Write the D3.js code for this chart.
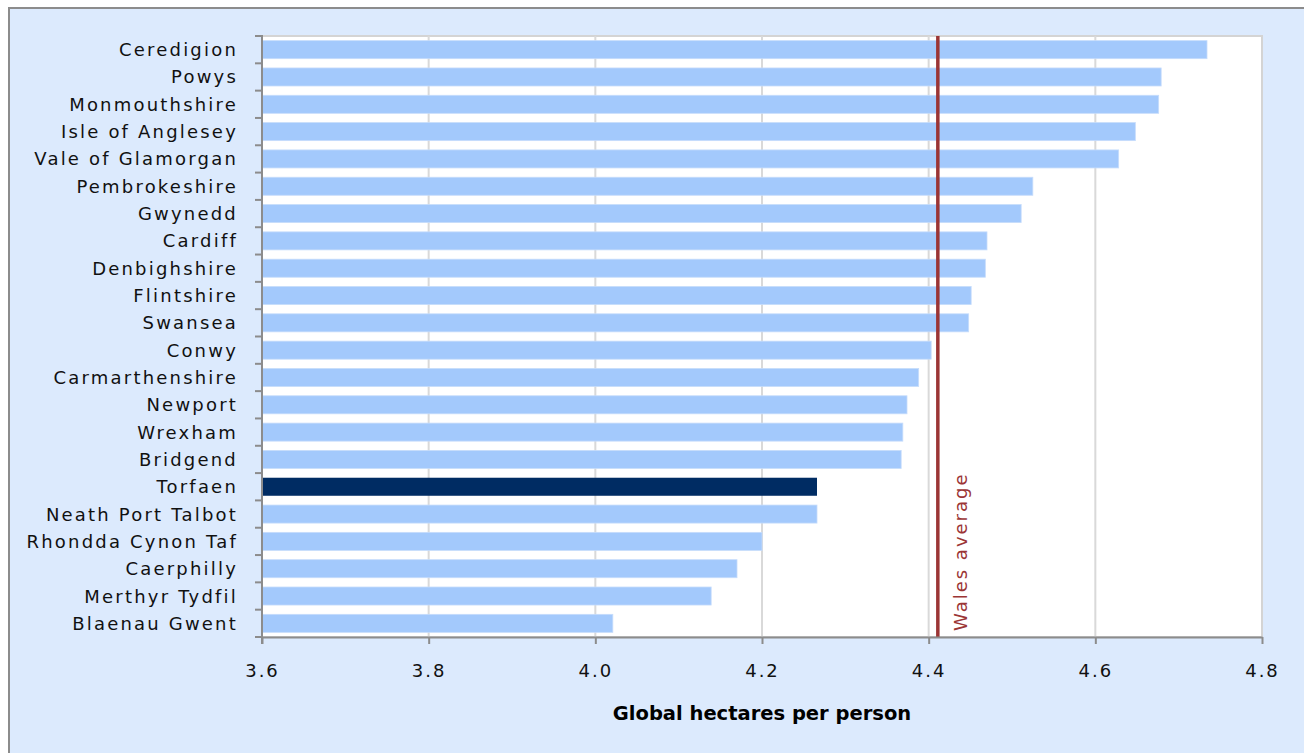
<!DOCTYPE html>
<html><head><meta charset="utf-8">
<script src="https://cdn.jsdelivr.net/npm/d3@7"></script>
<style>
html,body{margin:0;padding:0;background:#fff;}
svg{display:block;}
text{font-family:"DejaVu Sans",Verdana,sans-serif;}
</style></head>
<body>
<svg id="chart" width="1304" height="753"></svg>
<script>
const categories = ["Ceredigion","Powys","Monmouthshire","Isle of Anglesey","Vale of Glamorgan","Pembrokeshire","Gwynedd","Cardiff","Denbighshire","Flintshire","Swansea","Conwy","Carmarthenshire","Newport","Wrexham","Bridgend","Torfaen","Neath Port Talbot","Rhondda Cynon Taf","Caerphilly","Merthyr Tydfil","Blaenau Gwent"];
const values = [4.734,4.679,4.676,4.648,4.628,4.525,4.511,4.470,4.468,4.451,4.448,4.403,4.388,4.374,4.369,4.367,4.266,4.266,4.200,4.170,4.139,4.021];
const highlighted = ["Torfaen"];
const walesAverage = 4.411;
const walesLabel = "Wales average";
const xTicks = [3.6,3.8,4.0,4.2,4.4,4.6,4.8];
const xTitle = "Global hectares per person";

const svg = d3.select("#chart");
// outer background
svg.append("rect").attr("x",9).attr("y",8).attr("width",1304).attr("height",753).attr("fill","#dceafd");
svg.append("line").attr("x1",9).attr("x2",9).attr("y1",7).attr("y2",753).attr("stroke","#8c8c8c").attr("stroke-width",2);
svg.append("line").attr("x1",8).attr("x2",1304).attr("y1",8).attr("y2",8).attr("stroke","#8c8c8c").attr("stroke-width",2);

const L=262, R=1262, T=36, B=637;
const x = d3.scaleLinear().domain([3.6,4.8]).range([L,R]);
const y = d3.scaleBand().domain(categories).range([T,B]).paddingInner(0.34).paddingOuter(0.17);
const yb = d3.scaleBand().domain(categories).range([T,B]);

svg.append("rect").attr("x",L).attr("y",T).attr("width",R-L).attr("height",B-T).attr("fill","#fff").attr("stroke","#d4d4d4").attr("stroke-width",2);

// grid
svg.append("g").selectAll("line").data(xTicks.slice(1,-1)).join("line")
  .attr("x1",d=>x(d)).attr("x2",d=>x(d)).attr("y1",T).attr("y2",B)
  .attr("stroke","#d9d9d9").attr("stroke-width",2);

// bars
svg.append("g").selectAll("rect").data(categories).join("rect")
  .attr("x",x(3.6)).attr("y",d=>y(d)).attr("height",y.bandwidth())
  .attr("width",(d,i)=>x(values[i])-x(3.6))
  .attr("fill",d=>highlighted.includes(d)?"#002c63":"#a3c9fc")
  .attr("stroke",d=>highlighted.includes(d)?"none":"#c6dcfb").attr("stroke-width",0.8);

// wales average line
svg.append("line").attr("x1",x(walesAverage)).attr("x2",x(walesAverage)).attr("y1",T).attr("y2",B)
  .attr("stroke","#9b3535").attr("stroke-width",3.5);
svg.append("text").attr("transform",`translate(${x(walesAverage)+29},${B-6}) rotate(-90)`)
  .attr("fill","#9b3535").attr("font-size",18).attr("letter-spacing",2).text(walesLabel);

// axes
const xAxis = d3.axisBottom(x).tickValues(xTicks).tickFormat(d3.format(".1f")).tickSizeInner(7).tickSizeOuter(0).tickPadding(20);
const gx = svg.append("g").attr("transform",`translate(0,${B})`).call(xAxis);
gx.select(".domain").attr("stroke","#8c8c8c").attr("stroke-width",2);
gx.selectAll(".tick line").attr("stroke","#8c8c8c").attr("stroke-width",2);
gx.selectAll(".tick text").attr("font-size",18).attr("fill","#111").attr("letter-spacing",2).style("font-family","DejaVu Sans");

const gy = svg.append("g").attr("transform",`translate(${L},0)`);
gy.append("line").attr("x1",0).attr("x2",0).attr("y1",T-1).attr("y2",B+7).attr("stroke","#8c8c8c").attr("stroke-width",2);
const bounds = categories.map(c=>yb(c)).concat([B]);
gy.selectAll("line.t").data(bounds).join("line").attr("class","t")
  .attr("x1",-7).attr("x2",0).attr("y1",d=>d).attr("y2",d=>d).attr("stroke","#8c8c8c").attr("stroke-width",2);
gy.selectAll("text").data(categories).join("text")
  .attr("x",-24).attr("y",d=>yb(d)+yb.bandwidth()/2).attr("dy","0.36em")
  .attr("text-anchor","end").attr("font-size",18).attr("fill","#111").attr("letter-spacing",2.2).text(d=>d);

svg.append("text").attr("x",762).attr("y",720).attr("text-anchor","middle")
  .attr("font-size",19.5).attr("font-weight","bold").attr("fill","#000").text(xTitle);
</script>
</body></html>
